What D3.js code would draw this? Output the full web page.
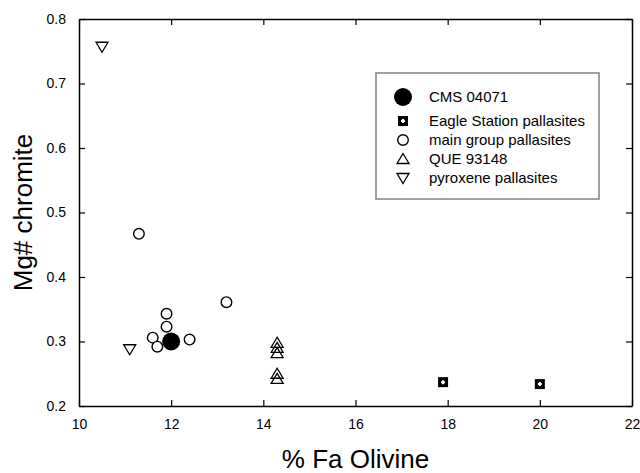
<!DOCTYPE html>
<html>
<head>
<meta charset="utf-8">
<script src="https://cdn.jsdelivr.net/npm/d3@7"></script>
<style>
    body { margin: 0; background: #fff; }
    text { font-family: "Liberation Sans", Arial, sans-serif; fill: #000; }
</style>
</head>
<body>
<div id="my_dataviz"></div>
<script>
// Data: [% Fa olivine, Mg# chromite]
var cms = [[12.0, 0.300]];
var eagleStation = [[17.9, 0.237], [20.0, 0.234]];
var mainGroup = [[11.3, 0.467], [13.2, 0.361], [11.9, 0.343], [11.9, 0.323],
                 [11.6, 0.306], [11.7, 0.292], [12.4, 0.303]];
var que = [[14.3, 0.298], [14.3, 0.290], [14.3, 0.282], [14.3, 0.250], [14.3, 0.242]];
var pyroxene = [[10.5, 0.757], [11.1, 0.288]];

var xTicks = [10, 12, 14, 16, 18, 20, 22];
var yTicks = [0.2, 0.3, 0.4, 0.5, 0.6, 0.7, 0.8];
var legendLabels = ["CMS 04071", "Eagle Station pallasites", "main group pallasites", "QUE 93148", "pyroxene pallasites"];

// Set the dimensions and margins of the graph
var margin = { top: 19, right: 8, bottom: 67, left: 79 },
    width = 632 - margin.left,
    height = 406 - margin.top;

var svg = d3.select("#my_dataviz")
    .append("svg")
    .attr("width", 640)
    .attr("height", 473)
    .append("g")
    .attr("transform", "translate(" + margin.left + "," + margin.top + ")");

var x = d3.scaleLinear().domain([10, 22]).range([0, width]);
var y = d3.scaleLinear().domain([0.2, 0.8]).range([height, 0]);

// Axes, ticks pointing inward on all four sides
function styleAxis(g) {
    g.select(".domain").attr("stroke", "#000").attr("stroke-width", 1.5);
    g.selectAll(".tick line").attr("stroke", "#000").attr("stroke-width", 1.2);
    g.selectAll(".tick text").style("font-size", "14px").style("font-family", "Liberation Sans, Arial, sans-serif");
}
svg.append("g")
    .attr("transform", "translate(0," + height + ")")
    .call(d3.axisBottom(x).tickValues(xTicks).tickSizeInner(-6).tickSizeOuter(0).tickPadding(13).tickFormat(d3.format("d")))
    .call(styleAxis);
svg.append("g")
    .call(d3.axisTop(x).tickValues(xTicks).tickSizeInner(-6).tickSizeOuter(0).tickFormat(""))
    .call(styleAxis);
svg.append("g")
    .call(d3.axisLeft(y).tickValues(yTicks).tickSizeInner(-6).tickSizeOuter(0).tickPadding(13).tickFormat(d3.format(".1f")))
    .call(styleAxis);
svg.append("g")
    .attr("transform", "translate(" + width + ",0)")
    .call(d3.axisRight(y).tickValues(yTicks).tickSizeInner(-6).tickSizeOuter(0).tickFormat(""))
    .call(styleAxis);

// Axis titles
svg.append("text")
    .attr("text-anchor", "middle")
    .attr("x", width / 2)
    .attr("y", 449)
    .style("font-size", "26px")
    .text("% Fa Olivine");
svg.append("text")
    .attr("text-anchor", "middle")
    .attr("transform", "rotate(-90)")
    .attr("x", -height / 2)
    .attr("y", -47)
    .style("font-size", "26px")
    .text("Mg# chromite");

// Symbol drawers
var sym = {
    cms: function (g) {
        g.append("circle").attr("r", 9).attr("fill", "#000");
    },
    eagle: function (g) {
        g.append("rect").attr("x", -5).attr("y", -5).attr("width", 10).attr("height", 10).attr("fill", "#000");
        g.append("path").attr("d", "M-2,0H2M0,-2V2").attr("stroke", "#fff").attr("stroke-width", 2);
    },
    main: function (g) {
        g.append("circle").attr("r", 5.3).attr("fill", "#fff").attr("stroke", "#000").attr("stroke-width", 1.4);
    },
    que: function (g) {
        g.append("path").attr("d", "M0,-5.5L6,4.5H-6Z").attr("fill", "none").attr("stroke", "#000").attr("stroke-width", 1.3);
    },
    pyx: function (g) {
        g.append("path").attr("d", "M0,5.5L6,-4.5H-6Z").attr("fill", "none").attr("stroke", "#000").attr("stroke-width", 1.3);
    }
};

function addPoints(data, draw) {
    svg.append("g")
        .selectAll("g")
        .data(data)
        .enter()
        .append("g")
        .attr("transform", d => "translate(" + x(d[0]) + "," + y(d[1]) + ")")
        .each(function () { draw(d3.select(this)); });
}
addPoints(pyroxene, sym.pyx);
addPoints(que, sym.que);
addPoints(mainGroup, sym.main);
addPoints(eagleStation, sym.eagle);
addPoints(cms, sym.cms);

// Legend
var legend = d3.select("svg").append("g");
legend.append("rect")
    .attr("x", 376)
    .attr("y", 73)
    .attr("width", 223)
    .attr("height", 126)
    .attr("fill", "#fff")
    .attr("stroke", "#808080")
    .attr("stroke-width", 1.5);
var legendSyms = [sym.cms, sym.eagle, sym.main, sym.que, sym.pyx];
var legendY = [97, 121, 140, 159, 178];
legendLabels.forEach(function (label, i) {
    var g = legend.append("g").attr("transform", "translate(403," + legendY[i] + ")");
    legendSyms[i](g);
    legend.append("text")
        .attr("x", 429)
        .attr("y", legendY[i])
        .attr("dy", "0.35em")
        .style("font-size", "15px")
        .text(label);
});
</script>
</body>
</html>
